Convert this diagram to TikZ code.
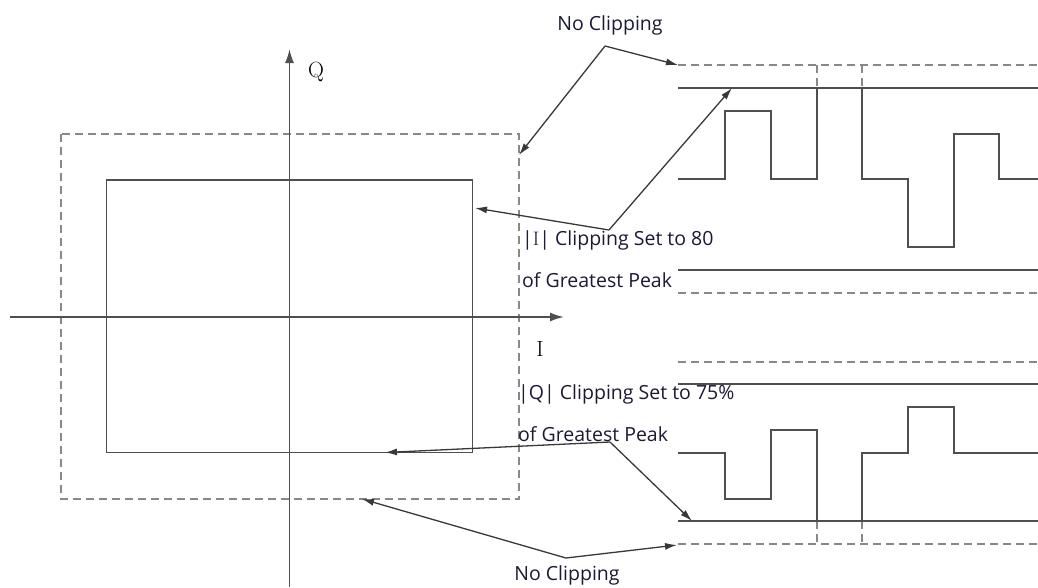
\documentclass[tikz,border=0pt]{standalone}
\usepackage{fontspec}
\newfontfamily\notefont{Open Sans}
\usepackage{xcolor}
\definecolor{LineGray}{HTML}{4F4F4F}
\definecolor{DashGray}{HTML}{888888}
\definecolor{PointerGray}{HTML}{383838}
\definecolor{NoteInk}{HTML}{1A1A33}
\usepackage{tikz}
\usetikzlibrary{arrows.meta,positioning}

\begin{document}
\begin{tikzpicture}[x=1pt,y=-1pt,>=Latex, axis/.style={draw=LineGray,line width=1.7pt,-{Latex[length=14pt,width=9pt]}}, wave/.style={draw=LineGray,line width=1.7pt}, limit/.style={draw=DashGray,line width=2pt,dash pattern=on 8pt off 5pt}, pointer/.style={draw=PointerGray,line width=1.3pt,-{Latex[length=12pt,width=7pt]}}, note/.style={text=NoteInk,font=\notefont\fontsize{19.5}{22}\selectfont,inner sep=0pt,anchor=west}, axlabel/.style={font=\fontsize{22}{24}\selectfont,inner sep=0pt}]
\useasboundingbox (0,0) rectangle (1038,587);
% I/Q plane
\draw[limit] (60.5,134) rectangle (519,499);
\draw[wave] (106.5,180) rectangle (472.5,452.5);
\draw[axis] (289.5,587) -- (289.5,49);
\draw[axis] (10,317) -- (564,317);
\node[axlabel] (qlab) at (316,72) {Q};
\node[axlabel] (ilab) at (540,349) {I};
% I channel
\draw[limit] (678,65) -- (1038,65) (817,65) -- (817,88) (862,65) -- (862,88);
\draw[limit] (678,293) -- (1038,293);
\draw[wave] (678,88) -- (1038,88) (678,270) -- (1038,270);
\draw[wave] (678,179) -| (725,111) -| (771,179) -| (817,88);
\draw[wave] (862,88) |- (908,179) |- (954,247) |- (999,134) |- (1038,179);
% Q channel
\draw[limit] (678,362) -- (1038,362) (678,544) -- (1038,544) (817,521) -- (817,544) (862,521) -- (862,544);
\draw[wave] (678,384) -- (1038,384) (678,521) -- (1038,521);
\draw[wave] (678,453) -| (725,499) -| (771,430) -| (817,521);
\draw[wave] (862,521) |- (908,453) |- (954,407) |- (1038,453);
% labels
\node[note,anchor=center] (nctop) at (610,25) {No Clipping};
\node[note,anchor=center] (ncbot) at (567,575) {No Clipping};
\node[note] (iclip) at (522,240) {|{\rmfamily I}| Clipping Set to 80};
\node[note] (ipeak) at (522,280) {of Greatest Peak};
\node[note] (qclip) at (518,394) {|Q| Clipping Set to 75\%};
\node[note] (qpeak) at (518,434) {of Greatest Peak};
% pointer ends
\coordinate (topfork) at (605,46);
\coordinate (ifork) at (609,230);
\coordinate (qfork) at (610,442);
\coordinate (botfork) at (566,558);
\coordinate (toprail) at (678,65);
\coordinate (outerright) at (519,155);
\coordinate (innerright) at (475,208);
\coordinate (iclipline) at (732,88);
\coordinate (innerbottom) at (385,452.5);
\coordinate (qclipline) at (692,521);
\coordinate (outerbottom) at (362,499);
\coordinate (botrail) at (677,545);
\draw[pointer] (topfork) -- (toprail);
\draw[pointer] (topfork) -- (outerright);
\draw[pointer] (ifork) -- (innerright);
\draw[pointer] (ifork) -- (iclipline);
\draw[pointer] (qfork) -- (innerbottom);
\draw[pointer] (qfork) -- (qclipline);
\draw[pointer] (botfork) -- (outerbottom);
\draw[pointer] (botfork) -- (botrail);
\end{tikzpicture}
\end{document}
